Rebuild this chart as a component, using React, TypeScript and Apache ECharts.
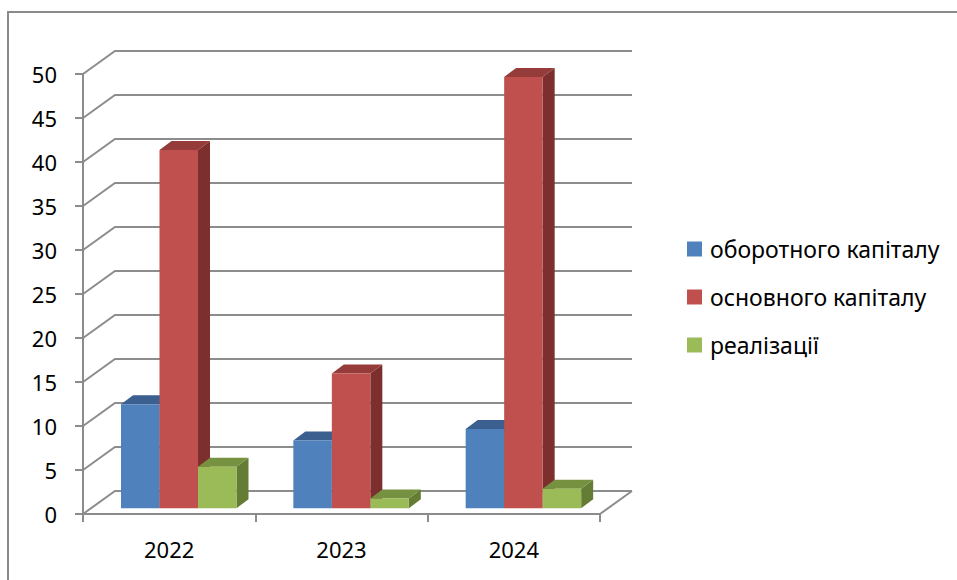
import React, { useEffect, useRef } from "react";
import * as echarts from "echarts";

const years = ["2022", "2023", "2024"];
const seriesNames = ["оборотного капіталу", "основного капіталу", "реалізації"];
const workingCapital = [11.8, 7.7, 9.0];
const fixedCapital = [40.7, 15.3, 49.0];
const sales = [4.7, 1.1, 2.2];
const yTicks = [0, 5, 10, 15, 20, 25, 30, 35, 40, 45, 50];

const seriesValues = [workingCapital, fixedCapital, sales];
const frontColors = ["#4F81BD", "#C0504D", "#9BBB59"];
const topColors = ["#3B5F8E", "#953B39", "#76913F"];
const sideColors = ["#385B87", "#7D2F2D", "#657C34"];

const FONT = "'Noto Sans', 'DejaVu Sans', sans-serif";
const GRID_COLOR = "#8C8C8C";
const WALL_DX = 32;
const WALL_DY = -23;
const BAR_DX = 12;
const BAR_DY = -9;
const BAR_LIFT = 5.8;

export default function App() {
  const ref = useRef<HTMLDivElement>(null);

  useEffect(() => {
    if (!ref.current) return;
    const chart = echarts.init(ref.current, undefined, { renderer: "svg" });

    const wallSeries: any = {
      type: "custom",
      name: "walls",
      z: 1,
      silent: true,
      clip: false,
      encode: { x: 0, y: 1 },
      data: yTicks.map((v) => [0, v]),
      renderItem: (params: any, api: any) => {
        const v = api.value(1);
        const cs = params.coordSys;
        const y = api.coord([0, v])[1];
        const x0 = cs.x;
        const x1 = cs.x + cs.width;
        const children: any[] = [
          {
            type: "polyline",
            shape: {
              points: [
                [x0, y],
                [x0 + WALL_DX, y + WALL_DY],
                [x1 + WALL_DX, y + WALL_DY],
              ],
            },
            style: { stroke: GRID_COLOR, lineWidth: 2, fill: null },
          },
        ];
        if (v === 0) {
          children.push({
            type: "line",
            shape: { x1: x1, y1: y, x2: x1 + WALL_DX, y2: y + WALL_DY },
            style: { stroke: GRID_COLOR, lineWidth: 2 },
          });
        }
        return { type: "group", children };
      },
    };

    const barSeries = seriesNames.map((name, si) => ({
      type: "custom",
      name,
      z: 3,
      clip: false,
      itemStyle: { color: frontColors[si] },
      encode: { x: 0, y: 1 },
      data: years.map((_, j) => [j, seriesValues[si][j]]),
      renderItem: (params: any, api: any) => {
        const idx = api.value(0);
        const val = api.value(1);
        const p0 = api.coord([idx, 0]);
        const p1 = api.coord([idx, val]);
        const bw = api.size([1, 0])[0];
        const bandStart = p0[0] - bw / 2;
        const w = bw * 0.2234;
        const left = bandStart + bw * 0.2205 + si * w;
        const yb = p0[1] - BAR_LIFT;
        const yt = p1[1] - BAR_LIFT;
        const right = left + w;
        return {
          type: "group",
          children: [
            {
              type: "polygon",
              shape: {
                points: [
                  [right, yt],
                  [right + BAR_DX, yt + BAR_DY],
                  [right + BAR_DX, yb + BAR_DY],
                  [right, yb],
                ],
              },
              style: { fill: sideColors[si] },
            },
            {
              type: "polygon",
              shape: {
                points: [
                  [left, yt],
                  [left + BAR_DX, yt + BAR_DY],
                  [right + BAR_DX, yt + BAR_DY],
                  [right, yt],
                ],
              },
              style: { fill: topColors[si] },
            },
            {
              type: "rect",
              shape: { x: left, y: yt, width: w, height: yb - yt },
              style: { fill: frontColors[si] },
            },
          ],
        };
      },
    }));

    chart.setOption({
      animation: false,
      backgroundColor: "#ffffff",
      textStyle: { fontFamily: FONT },
      grid: { left: 83, top: 74, width: 517, height: 440, containLabel: false },
      graphic: [
        {
          type: "rect",
          silent: true,
          shape: { x: 8, y: 12, width: 1200, height: 1000 },
          style: { fill: null, stroke: "#8A8A8A", lineWidth: 2 },
        },
      ],
      legend: {
        orient: "vertical",
        left: 682,
        top: 231,
        itemWidth: 15,
        itemHeight: 15,
        itemGap: 22,
        icon: "rect",
        data: seriesNames,
        textStyle: {
          fontFamily: FONT,
          fontSize: 23,
          color: "#000",
          lineHeight: 26,
          padding: [0, 0, 0, 3],
        },
      },
      xAxis: {
        type: "category",
        data: years,
        boundaryGap: true,
        axisLine: { show: true, lineStyle: { color: GRID_COLOR, width: 2 } },
        axisTick: { show: true, length: 8, lineStyle: { color: GRID_COLOR, width: 2 } },
        axisLabel: { fontFamily: FONT, fontSize: 22, color: "#000", margin: 24 },
        splitLine: { show: false },
      },
      yAxis: {
        type: "value",
        min: 0,
        max: 50,
        interval: 5,
        axisLine: { show: true, lineStyle: { color: GRID_COLOR, width: 2 } },
        axisTick: { show: true, length: 8, lineStyle: { color: GRID_COLOR, width: 2 } },
        axisLabel: { fontFamily: FONT, fontSize: 22, color: "#000", margin: 26 },
        splitLine: { show: false },
      },
      series: [wallSeries, ...barSeries],
    });

    return () => chart.dispose();
  }, []);

  return (
    <div
      ref={ref}
      style={{ position: "absolute", left: 0, top: 0, width: 957, height: 580, background: "#fff" }}
    />
  );
}
